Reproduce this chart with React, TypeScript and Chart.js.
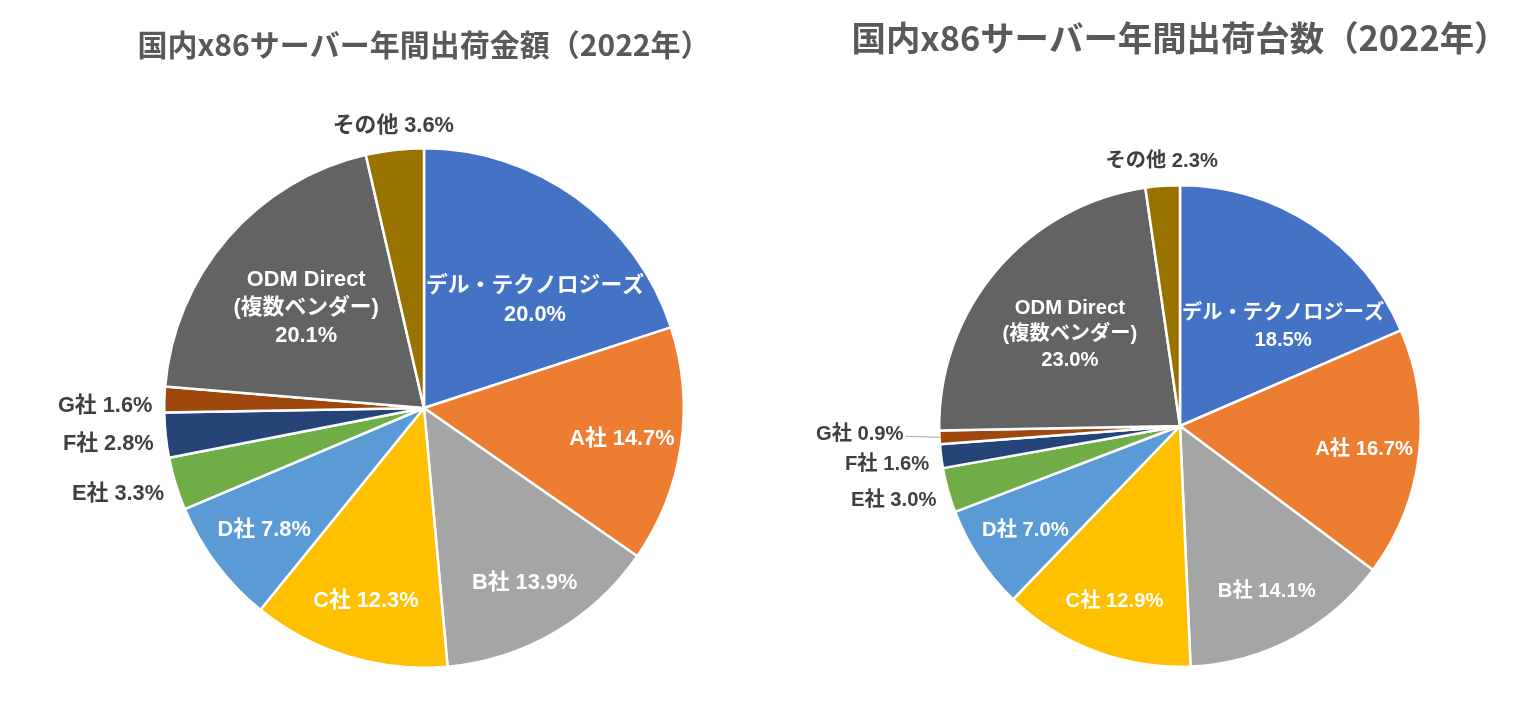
import React, { useEffect, useRef } from 'react';
import { Chart, registerables } from 'chart.js';

Chart.register(...registerables);

// ---- data ----
const categories = [
  'デル・テクノロジーズ',
  'A社',
  'B社',
  'C社',
  'D社',
  'E社',
  'F社',
  'G社',
  'ODM Direct\n(複数ベンダー)',
  'その他',
];
const amountShares = [20.0, 14.7, 13.9, 12.3, 7.8, 3.3, 2.8, 1.6, 20.1, 3.6];
const unitShares = [18.5, 16.7, 14.1, 12.9, 7.0, 3.0, 1.6, 0.9, 23.0, 2.3];
const sliceColors = [
  '#4472C4',
  '#ED7D31',
  '#A5A5A5',
  '#FFC000',
  '#5B9BD5',
  '#70AD47',
  '#264478',
  '#9E480E',
  '#636363',
  '#997300',
];
const amountTitle = '国内x86サーバー年間出荷金額（2022年）';
const unitTitle = '国内x86サーバー年間出荷台数（2022年）';

const OUTSIDE_THRESHOLD = 5;

const sliceLabelPlugin = {
  id: 'sliceLabels',
  afterDatasetsDraw(chart: any, _args: any, opts: any) {
    const ctx = chart.ctx as CanvasRenderingContext2D;
    const meta = chart.getDatasetMeta(0);
    const data = chart.data.datasets[0].data as number[];
    const labels = chart.data.labels as string[];
    ctx.save();
    const placed: { x0: number; x1: number; y: number }[] = [];
    meta.data.forEach((arc: any, i: number) => {
      const { x, y, startAngle, endAngle, outerRadius } = arc.getProps(
        ['x', 'y', 'startAngle', 'endAngle', 'outerRadius'],
        true
      );
      const fs = outerRadius * 0.084;
      ctx.font = `bold ${fs}px "Liberation Sans", "Noto Sans CJK JP", sans-serif`;
      const mid = (startAngle + endAngle) / 2;
      const v = data[i];
      const nameLines = String(labels[i]).split('\n');
      const pct = v.toFixed(1) + '%';
      if (v >= OUTSIDE_THRESHOLD) {
        const multi = nameLines.length > 1 || nameLines[0].length > 6;
        const lines = multi ? [...nameLines, pct] : [nameLines[0] + ' ' + pct];
        const f = multi ? 0.6 : 0.77;
        const R = outerRadius * f;
        const w = Math.max(...lines.map((t) => ctx.measureText(t).width));
        const sx = Math.cos(startAngle);
        const ex = Math.cos(endAngle);
        let a = mid;
        const k = Math.min(1, (w / 2 + 2) / R);
        const alpha = Math.acos(k);
        if (sx >= -1e-6 && ex >= -1e-6) {
          let d = Math.atan2(Math.sin(a), Math.cos(a));
          d = Math.max(-alpha, Math.min(alpha, d));
          a = d;
        } else if (sx <= 1e-6 && ex <= 1e-6) {
          let d = Math.atan2(Math.sin(a - Math.PI), Math.cos(a - Math.PI));
          d = Math.max(-alpha, Math.min(alpha, d));
          a = Math.PI + d;
        }
        const lx = x + Math.cos(a) * R;
        const ly = y + Math.sin(a) * R;
        const lh = fs * 1.3;
        ctx.fillStyle = '#FFFFFF';
        ctx.textAlign = 'center';
        ctx.textBaseline = 'middle';
        lines.forEach((t, n) => {
          ctx.fillText(t, lx, ly + (n - (lines.length - 1) / 2) * lh + 2);
        });
      } else {
        const text = nameLines.join(' ') + ' ' + pct;
        const w = ctx.measureText(text).width;
        const cx = Math.cos(mid);
        const sy = Math.sin(mid);
        const compute = (R: number) => {
          const ax = x + cx * R;
          const ay = y + sy * R;
          let align: CanvasTextAlign;
          let x0: number;
          let x1: number;
          let ty: number;
          if (Math.abs(cx) < 0.35) {
            align = 'center';
            x0 = ax - w / 2;
            x1 = ax + w / 2;
            ty = sy < 0 ? ay - 12 : ay + 12;
          } else if (cx < 0) {
            align = 'right';
            x0 = ax - w;
            x1 = ax;
            ty = ay + 7;
          } else {
            align = 'left';
            x0 = ax;
            x1 = ax + w;
            ty = ay + 7;
          }
          return { ax, ay, align, x0, x1, ty };
        };
        let pos = compute(outerRadius + 12);
        const hit = placed.find(
          (b) => Math.abs(b.y - pos.ty) < fs * 1.2 && pos.x0 < b.x1 && pos.x1 > b.x0
        );
        let leader = false;
        if (hit) {
          pos = compute(outerRadius + 32);
          const gap = fs * 1.5;
          if (pos.ty <= hit.y) pos.ty = Math.min(pos.ty, hit.y - gap);
          else pos.ty = Math.max(pos.ty, hit.y + gap);
          leader = true;
        }
        if (leader) {
          ctx.strokeStyle = '#A6A6A6';
          ctx.lineWidth = 1;
          ctx.beginPath();
          ctx.moveTo(x + cx * (outerRadius - 1), y + sy * (outerRadius - 1));
          ctx.lineTo(pos.ax + (cx < 0 ? -2 : 2), pos.ty + 2);
          ctx.stroke();
        }
        ctx.fillStyle = '#404040';
        ctx.textAlign = pos.align;
        ctx.textBaseline = 'middle';
        const tx = leader ? pos.ax + (cx < 0 ? -4 : 4) : pos.ax;
        ctx.fillText(text, tx, pos.ty);
        placed.push({ x0: pos.x0, x1: pos.x1, y: pos.ty });
      }
    });
    if (opts && opts.text) {
      ctx.font = `bold ${opts.size}px "Noto Sans CJK JP", sans-serif`;
      ctx.fillStyle = '#595959';
      ctx.textAlign = 'center';
      ctx.textBaseline = 'middle';
      ctx.fillText(opts.text, opts.x, opts.y);
    }
    ctx.restore();
  },
};

type PieProps = {
  values: number[];
  title: string;
  padding: { left: number; top: number; right: number; bottom: number };
  titleX: number;
  titleY: number;
  titleSize: number;
};

function PieCanvas({ values, title, padding, titleX, titleY, titleSize }: PieProps) {
  const ref = useRef<HTMLCanvasElement | null>(null);
  useEffect(() => {
    if (!ref.current) return;
    const chart = new Chart(ref.current, {
      type: 'pie',
      data: {
        labels: categories,
        datasets: [
          {
            data: values,
            backgroundColor: sliceColors,
            borderColor: '#FFFFFF',
            borderWidth: 2.5,
          },
        ],
      },
      options: {
        responsive: false,
        animation: false,
        devicePixelRatio: 1,
        layout: { padding },
        plugins: {
          legend: { display: false },
          tooltip: { enabled: false },
          title: { display: false },
          sliceLabels: { text: title, x: titleX, y: titleY, size: titleSize },
        } as any,
      },
      plugins: [sliceLabelPlugin],
    });
    return () => chart.destroy();
  }, [values, title]);
  return (
    <canvas
      ref={ref}
      width={768}
      height={704}
      style={{ width: 768, height: 704, display: 'block' }}
    />
  );
}

export default function App() {
  return (
    <div
      style={{
        position: 'absolute',
        left: 0,
        top: 0,
        width: 1536,
        height: 704,
        background: '#FFFFFF',
        display: 'flex',
        flexDirection: 'row',
      }}
    >
      <PieCanvas
        values={amountShares}
        title={amountTitle}
        padding={{ left: 163, top: 147, right: 83, bottom: 35 }}
        titleX={424}
        titleY={45}
        titleSize={30}
      />
      <PieCanvas
        values={unitShares}
        title={unitTitle}
        padding={{ left: 170, top: 184, right: 114, bottom: 36 }}
        titleX={412}
        titleY={38}
        titleSize={34.4}
      />
    </div>
  );
}
